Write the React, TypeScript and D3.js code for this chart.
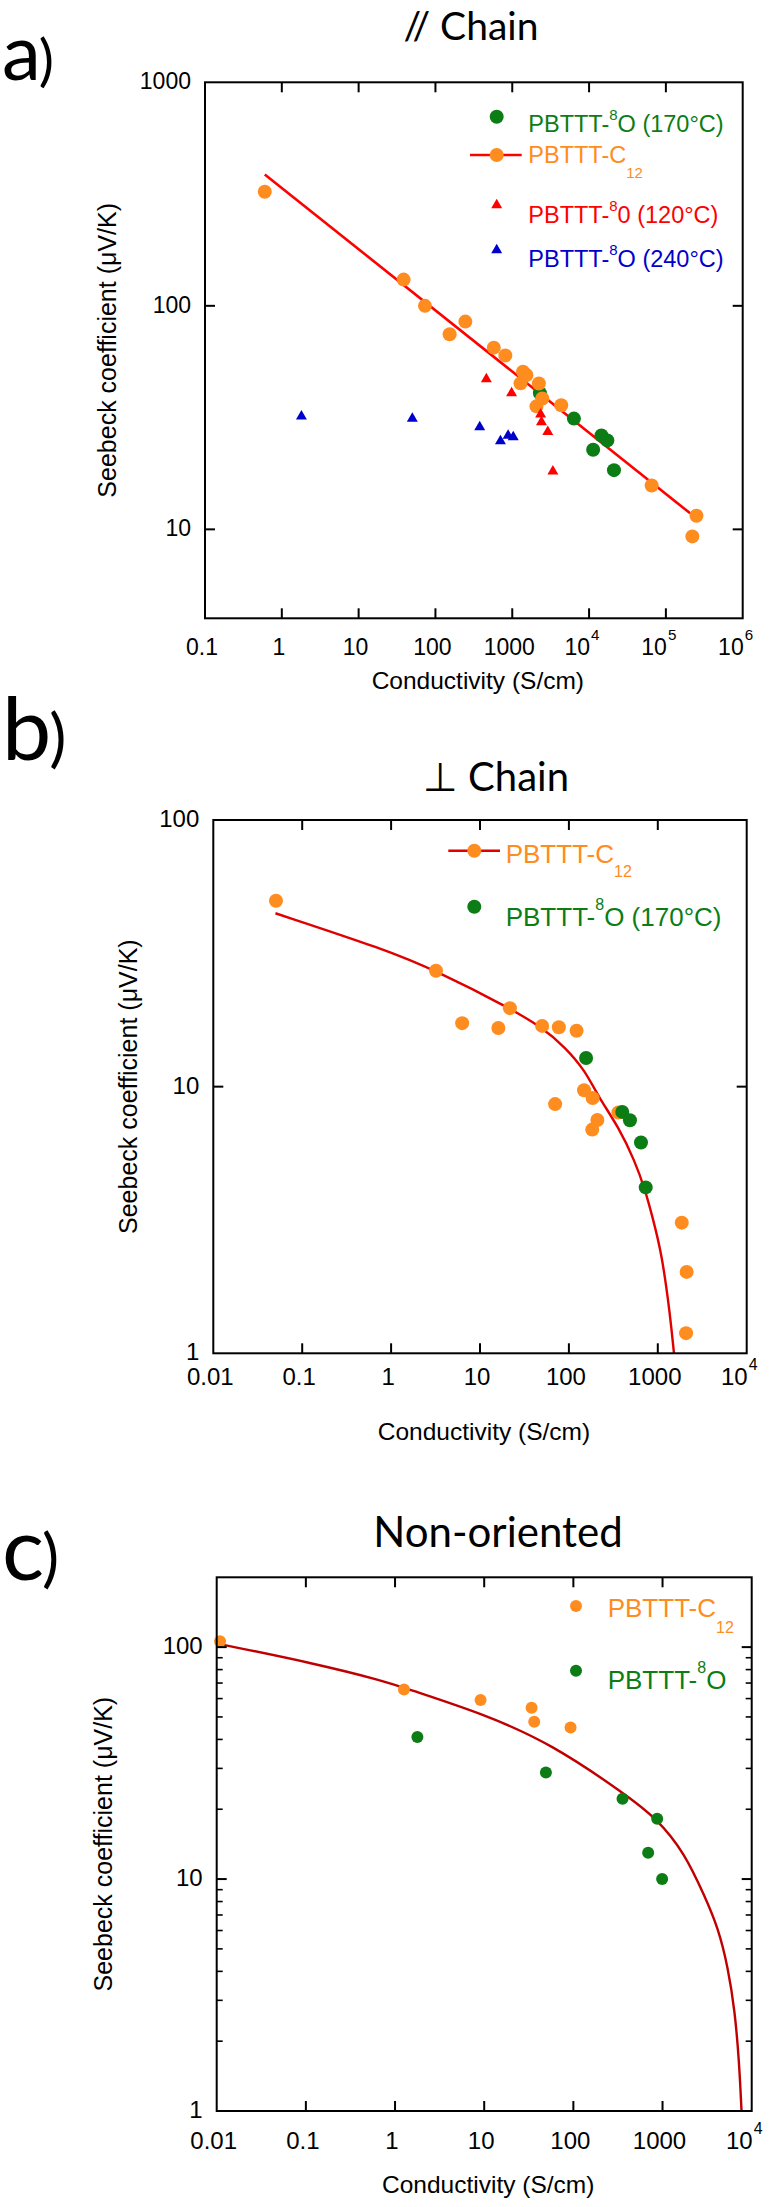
import React from 'react';
import * as d3 from 'd3';

const W = 775;
const H = 2207;
const SANS = "'Liberation Sans', Arial, Helvetica, sans-serif";
const DISPLAY = "Lato, 'Open Sans', 'DejaVu Sans', sans-serif";

// ---------- Panel a: // Chain ----------
const aC12: [number, number][] = [
  [0.6, 324], [38.5, 131], [73, 100], [153, 74.6], [245, 85], [575, 65], [813, 60],
  [1380, 50.7], [1530, 49], [1280, 45], [2220, 44.9], [2460, 38.5], [2065, 35.5],
  [4340, 35.9], [65300, 15.7], [250000, 11.5], [221000, 9.3],
];
const aO170: [number, number][] = [
  [2290, 40.7], [6350, 31.3], [14500, 26.3], [17300, 25], [11300, 22.7], [21100, 18.4],
];
const aO120: [number, number][] = [
  [460, 47], [980, 40.7], [2340, 32.7], [2400, 30.2], [2900, 27.3], [3380, 18.2],
];
const aO240: [number, number][] = [
  [1.8, 32], [50, 31.3], [377, 28.7], [702, 24.8], [883, 26.3], [1030, 25.9],
];
const aFit: [number, number][] = [[0.6, 387], [207000, 11.8]];
const aXTicks = [0.1, 1, 10, 100, 1000, 1e4, 1e5, 1e6];
const aXLabels = ['0.1', '1', '10', '100', '1000', '10^4', '10^5', '10^6'];
const aYTicks = [10, 100, 1000];
const aYLabels = ['10', '100', '1000'];

// ---------- Panel b: ⊥ Chain ----------
const bC12: [number, number][] = [
  [0.0507, 49.8], [3.2, 27.2], [6.3, 17.3], [16.1, 16.6], [21.7, 19.7], [50, 16.9],
  [77, 16.7], [122, 16.2], [148, 9.7], [185, 9.06], [70, 8.6], [209, 7.5], [183, 6.9],
  [360, 8.0], [1860, 3.09], [2110, 2.02], [2080, 1.19],
];
const bO170: [number, number][] = [
  [156, 12.8], [398, 8.04], [486, 7.48], [647, 6.17], [731, 4.19],
];
const bFit: [number, number][] = [
  [0.05, 44.7], [0.853, 32.7], [3.2, 27.2], [21.7, 19.7], [49.4, 16.7], [90, 14.1],
  [152, 11.5], [214, 9.17], [360, 7.08], [555, 5.24], [718, 4.11], [870, 3.25],
  [1107, 2.37], [1371, 1.41], [1520, 1],
];
const bcXTicks = [0.01, 0.1, 1, 10, 100, 1000, 1e4];
const bcXLabels = ['0.01', '0.1', '1', '10', '100', '1000', '10^4'];
const bYTicks = [1, 10, 100];
const bYLabels = ['1', '10', '100'];

// ---------- Panel c: Non-oriented ----------
const cC12: [number, number][] = [
  [0.0109, 106], [1.26, 65.6], [9.1, 59.1], [34, 54.8], [36.4, 47.7], [93, 45],
];
const cO: [number, number][] = [
  [1.78, 41], [49.2, 28.8], [356, 22.2], [871, 18.2], [690, 13], [990, 10],
];
const cFit: [number, number][] = [
  [0.0109, 103], [0.121, 85.3], [0.77, 71.3], [1.26, 66.7], [10.2, 51.3], [57, 38.2],
  [378, 23.3], [871, 18.2], [1780, 12.9], [2980, 8.4], [4200, 6.17], [5430, 4.15],
  [6460, 2.71], [7220, 1.65], [7690, 1],
];
const cYTicks = [1, 10, 100];
const cYLabels = ['1', '10', '100'];
const cYMinor = [2, 3, 4, 5, 6, 7, 8, 9, 20, 30, 40, 50, 60, 70, 80, 90];

// colours
const ORANGE = '#FF8C1F';
const GREEN = '#0B7D14';
const RED = '#FF0000';
const BLUE = '#0000CC';

type Part = { t: string; sup?: boolean; sub?: boolean };

function Rich({ x, y, size, color, parts, small, shift }: {
  x: number; y: number; size: number; color: string; parts: Part[]; small: number; shift: number;
}) {
  let offset = 0;
  return (
    <text x={x} y={y} fontFamily={SANS} fontSize={size} fill={color}>
      {parts.map((p, i) => {
        const target = p.sup ? -shift : p.sub ? shift : 0;
        const dy = target - offset;
        offset = target;
        return (
          <tspan key={i} dy={dy} fontSize={p.sup || p.sub ? small : size}>{p.t}</tspan>
        );
      })}
    </text>
  );
}

function Axes({ xs, ys, xTicks, xLabels, yTicks, yLabels, yMinor, fontSize, xLabOff, xTitleOff, ylabX }: {
  xs: d3.ScaleLogarithmic<number, number>; ys: d3.ScaleLogarithmic<number, number>;
  xTicks: number[]; xLabels: string[]; yTicks: number[]; yLabels: string[]; yMinor?: number[];
  fontSize: number; xLabOff: number; xTitleOff: number; ylabX: number;
}) {
  const [x0, x1] = xs.range();
  const [y1, y0] = ys.range();
  const inner = (v: number, s: d3.ScaleLogarithmic<number, number>) => {
    const d = s.domain();
    return v > Math.min(d[0], d[1]) * 1.0001 && v < Math.max(d[0], d[1]) * 0.9999;
  };
  const T = 10;
  const t = 6;
  return (
    <g>
      {xTicks.filter(v => inner(v, xs)).map((v, i) => (
        <g key={'xt' + i} stroke="#000" strokeWidth={2}>
          <line x1={xs(v)} x2={xs(v)} y1={y1} y2={y1 - T} />
          <line x1={xs(v)} x2={xs(v)} y1={y0} y2={y0 + T} />
        </g>
      ))}
      {yTicks.filter(v => inner(v, ys)).map((v, i) => (
        <g key={'yt' + i} stroke="#000" strokeWidth={2}>
          <line x1={x0} x2={x0 + T} y1={ys(v)} y2={ys(v)} />
          <line x1={x1} x2={x1 - T} y1={ys(v)} y2={ys(v)} />
        </g>
      ))}
      {(yMinor || []).filter(v => inner(v, ys)).map((v, i) => (
        <g key={'ym' + i} stroke="#000" strokeWidth={1.6}>
          <line x1={x0} x2={x0 + t} y1={ys(v)} y2={ys(v)} />
          <line x1={x1} x2={x1 - t} y1={ys(v)} y2={ys(v)} />
        </g>
      ))}
      <rect x={x0} y={y0} width={x1 - x0} height={y1 - y0} fill="none" stroke="#000" strokeWidth={2} />
      {xTicks.map((v, i) => {
        const lab = xLabels[i];
        const yy = y1 + xLabOff;
        if (lab.startsWith('10^')) {
          return (
            <g key={'xl' + i} fontFamily={SANS} fill="#000">
              <text x={xs(v) + 1} y={yy} fontSize={fontSize} textAnchor="end">10</text>
              <text x={xs(v) + 2} y={yy - 15} fontSize={fontSize * 0.66}>{lab.slice(3)}</text>
            </g>
          );
        }
        return (
          <text key={'xl' + i} x={xs(v) - 3} y={yy} fontSize={fontSize} fontFamily={SANS} textAnchor="middle">{lab}</text>
        );
      })}
      {yTicks.map((v, i) => (
        <text key={'yl' + i} x={x0 - 14} y={ys(v) + 7} fontSize={fontSize} fontFamily={SANS} textAnchor="end">{yLabels[i]}</text>
      ))}
      <text x={(x0 + x1) / 2 + 4} y={y1 + xTitleOff} fontSize={24.5} fontFamily={SANS} textAnchor="middle">Conductivity (S/cm)</text>
      <text transform={`translate(${ylabX},${(y0 + y1) / 2}) rotate(-90)`} fontSize={25} fontFamily={SANS}
        textAnchor="middle" dominantBaseline="central">Seebeck coefficient (μV/K)</text>
    </g>
  );
}

function PanelLabel({ letter, y, size }: { letter: string; y: number; size: number }) {
  return (
    <text x={2} y={y} fontFamily={DISPLAY} fill="#000">
      <tspan fontSize={size}>{letter}</tspan>
      <tspan fontSize={size * 0.73} dx={-2}>)</tspan>
    </text>
  );
}

export default function App() {
  // Panel a scales
  const axs = d3.scaleLog().domain([0.1, 1e6]).range([205, 742.7]);
  const ays = d3.scaleLog().domain([4, 1000]).range([618.3, 82.3]);
  // Panel b
  const bxs = d3.scaleLog().domain([0.01, 1e4]).range([213.3, 746.7]);
  const bys = d3.scaleLog().domain([1, 100]).range([1353.3, 820]);
  // Panel c
  const cxs = d3.scaleLog().domain([0.01, 1e4]).range([216.7, 751.7]);
  const cys = d3.scaleLog().domain([1, 200]).range([2111, 1577.3]);

  const lineA = d3.line<[number, number]>().x(d => axs(d[0])).y(d => ays(d[1]));
  const lineB = d3.line<[number, number]>().x(d => bxs(d[0])).y(d => bys(d[1])).curve(d3.curveBasis);
  const lineC = d3.line<[number, number]>().x(d => cxs(d[0])).y(d => cys(d[1])).curve(d3.curveBasis);
  const tri = d3.symbol().type(d3.symbolTriangle).size(52)() as string;

  const aLegX = 496.7;
  const bLegX = 474.3;
  const cLegX = 576;

  return (
    <svg width={W} height={H} viewBox={`0 0 ${W} ${H}`} style={{ position: 'absolute', left: 0, top: 0, background: '#fff' }}>
      <rect x={0} y={0} width={W} height={H} fill="#fff" />

      {/* ---------------- Panel a ---------------- */}
      <PanelLabel letter="a" y={80} size={78} />
      <text x={471} y={40} fontFamily={DISPLAY} fontSize={39} textAnchor="middle">// Chain</text>
      <path d={lineA(aFit) || ''} fill="none" stroke={RED} strokeWidth={2.6} />
      {aO170.map((d, i) => <circle key={'ag' + i} cx={axs(d[0])} cy={ays(d[1])} r={7} fill={GREEN} />)}
      {aC12.map((d, i) => <circle key={'ao' + i} cx={axs(d[0])} cy={ays(d[1])} r={7} fill={ORANGE} />)}
      {aO120.map((d, i) => <path key={'ar' + i} d={tri} transform={`translate(${axs(d[0])},${ays(d[1])})`} fill={RED} />)}
      {aO240.map((d, i) => <path key={'ab' + i} d={tri} transform={`translate(${axs(d[0])},${ays(d[1])})`} fill={BLUE} />)}
      <Axes xs={axs} ys={ays} xTicks={aXTicks} xLabels={aXLabels} yTicks={aYTicks} yLabels={aYLabels}
        fontSize={23} xLabOff={37} xTitleOff={71} ylabX={107} />
      {/* legend a */}
      <circle cx={aLegX} cy={116.7} r={7} fill={GREEN} />
      <Rich x={528.3} y={131.7} size={23.5} small={15} shift={12} color={GREEN}
        parts={[{ t: 'PBTTT-' }, { t: '8', sup: true }, { t: 'O (170°C)' }]} />
      <line x1={470} x2={521.7} y1={155} y2={155} stroke={RED} strokeWidth={2.6} />
      <circle cx={aLegX} cy={155} r={7} fill={ORANGE} />
      <Rich x={528.3} y={163.3} size={23.5} small={15} shift={15} color={ORANGE}
        parts={[{ t: 'PBTTT-C' }, { t: '12', sub: true }]} />
      <path d={tri} transform={`translate(${aLegX},205)`} fill={RED} />
      <Rich x={528.3} y={222.7} size={23.5} small={15} shift={12} color={RED}
        parts={[{ t: 'PBTTT-' }, { t: '8', sup: true }, { t: '0 (120°C)' }]} />
      <path d={tri} transform={`translate(${aLegX},250)`} fill={BLUE} />
      <Rich x={528.3} y={266.7} size={23.5} small={15} shift={12} color={BLUE}
        parts={[{ t: 'PBTTT-' }, { t: '8', sup: true }, { t: 'O (240°C)' }]} />

      {/* ---------------- Panel b ---------------- */}
      <PanelLabel letter="b" y={760} size={88} />
      <text x={496} y={790.7} fontFamily={DISPLAY} fontSize={40} textAnchor="middle">⊥ Chain</text>
      <path d={lineB(bFit) || ''} fill="none" stroke="#E00000" strokeWidth={2.4} />
      {bC12.map((d, i) => <circle key={'bo' + i} cx={bxs(d[0])} cy={bys(d[1])} r={7} fill={ORANGE} />)}
      {bO170.map((d, i) => <circle key={'bg' + i} cx={bxs(d[0])} cy={bys(d[1])} r={7} fill={GREEN} />)}
      <Axes xs={bxs} ys={bys} xTicks={bcXTicks} xLabels={bcXLabels} yTicks={bYTicks} yLabels={bYLabels}
        fontSize={24} xLabOff={32} xTitleOff={87} ylabX={128} />
      {/* legend b */}
      <line x1={448.3} x2={500} y1={850.7} y2={850.7} stroke="#E00000" strokeWidth={2.4} />
      <circle cx={bLegX} cy={850.7} r={7} fill={ORANGE} />
      <Rich x={505.7} y={862.7} size={26} small={16} shift={14.6} color={ORANGE}
        parts={[{ t: 'PBTTT-C' }, { t: '12', sub: true }]} />
      <circle cx={bLegX} cy={906.7} r={7} fill={GREEN} />
      <Rich x={505.7} y={925.7} size={26} small={16} shift={15.5} color={GREEN}
        parts={[{ t: 'PBTTT-' }, { t: '8', sup: true }, { t: 'O (170°C)' }]} />

      {/* ---------------- Panel c ---------------- */}
      <PanelLabel letter="c" y={1580} size={88} />
      <text x={498} y={1546.7} fontFamily={DISPLAY} fontSize={42} textAnchor="middle">Non-oriented</text>
      <path d={lineC(cFit) || ''} fill="none" stroke="#C00000" strokeWidth={2.4} />
      {cC12.map((d, i) => <circle key={'co' + i} cx={cxs(d[0])} cy={cys(d[1])} r={6} fill={ORANGE} />)}
      {cO.map((d, i) => <circle key={'cg' + i} cx={cxs(d[0])} cy={cys(d[1])} r={6} fill={GREEN} />)}
      <Axes xs={cxs} ys={cys} xTicks={bcXTicks} xLabels={bcXLabels} yTicks={cYTicks} yLabels={cYLabels} yMinor={cYMinor}
        fontSize={24} xLabOff={38} xTitleOff={82} ylabX={103} />
      {/* legend c */}
      <circle cx={cLegX} cy={1606} r={6} fill={ORANGE} />
      <Rich x={607.7} y={1616.7} size={26} small={16} shift={16} color={ORANGE}
        parts={[{ t: 'PBTTT-C' }, { t: '12', sub: true }]} />
      <circle cx={cLegX} cy={1670.7} r={6} fill={GREEN} />
      <Rich x={607.7} y={1689.3} size={26} small={16} shift={16} color={GREEN}
        parts={[{ t: 'PBTTT-' }, { t: '8', sup: true }, { t: 'O' }]} />
    </svg>
  );
}
